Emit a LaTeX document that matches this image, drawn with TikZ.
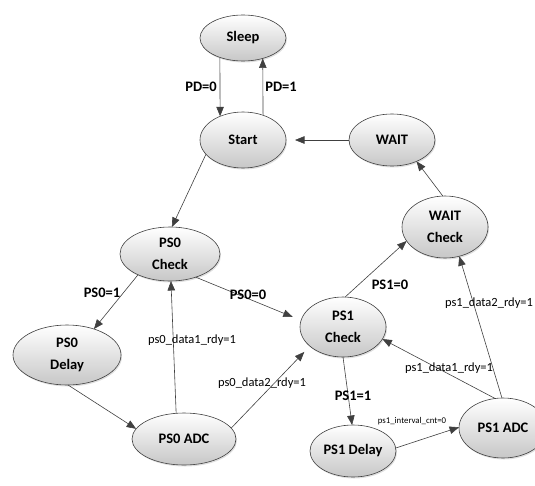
\documentclass[tikz,border=0pt]{standalone}
\usepackage{fontspec}
\setmainfont{Carlito}
\usetikzlibrary{shapes.geometric,arrows.meta,shadows}
\begin{document}
\begin{tikzpicture}[x=1pt,y=-1pt,
  state/.style={ellipse, draw=black!75, line width=0.6pt, top color=white, bottom color=black!22,
    inner sep=0pt, outer sep=0pt, align=center,
    font=\bfseries\fontsize{14.5}{22}\selectfont,
    drop shadow={opacity=0.25, shadow xshift=1pt, shadow yshift=-1.5pt}},
  tr/.style={draw=black!75, line width=0.6pt, -{Triangle[length=9.5pt,width=7.5pt]}},
  lbl/.style={font=\bfseries\fontsize{14.5}{17}\selectfont, inner sep=0pt},
  slbl/.style={font=\fontsize{12.5}{15}\selectfont, inner sep=0pt},
  tlbl/.style={font=\fontsize{8.8}{10}\selectfont, inner sep=0pt}]
\useasboundingbox (0,0) rectangle (535,485);
% states
\node[state, minimum width=86pt, minimum height=46pt] (sleep) at (243,38) {Sleep};
\node[state, minimum width=86pt, minimum height=56pt] (start) at (243,140) {Start};
\node[state, minimum width=86pt, minimum height=52pt] (wait) at (392,140) {WAIT};
\node[state, minimum width=100pt, minimum height=54pt] (ps0c) at (170,254) {PS0\\Check};
\node[state, minimum width=108pt, minimum height=60pt] (ps0d) at (67,355) {PS0\\Delay};
\node[state, minimum width=104pt, minimum height=52pt] (ps0a) at (184,439) {PS0 ADC};
\node[state, minimum width=86pt, minimum height=60pt] (ps1c) at (343,327) {PS1\\Check};
\node[state, minimum width=86pt, minimum height=62pt] (waitc) at (445,227) {WAIT\\Check};
\node[state, minimum width=86pt, minimum height=52pt] (ps1d) at (353,451) {PS1 Delay};
\node[state, minimum width=88pt, minimum height=60pt] (ps1a) at (503,428) {PS1 ADC};
% transitions
\draw[tr] (sleep.220) -- (start.134);
\draw[tr] (start.51) -- (sleep.314);
\draw[tr, shorten >=9pt] (wait.180) -- (start.0);
\draw[tr] (start.201) -- (ps0c.86);
\draw[tr] (ps0c.213) -- (ps0d.44);
\draw[tr, shorten >=9pt] (ps0c.318) -- (ps1c.171);
\draw[tr] (ps0d.272) -- (ps0a.168);
\draw[tr] (ps0a.107) -- (ps0c.272);
\draw[tr, shorten >=8pt] (ps0a.13) -- (ps1c.210);
\draw[tr] (ps1c.86) -- (waitc.200);
\draw[tr] (ps1c.270) -- (ps1d.92);
\draw[tr] (ps1d.4) -- (ps1a.179);
\draw[tr] (ps1a.105) -- (ps1c.343);
\draw[tr] (ps1a.92) -- (waitc.296);
\draw[tr] (waitc.94) -- (wait.319);
% labels
\node[lbl] (lpd0) at (201,87) {PD=0};
\node[lbl] (lpd1) at (281,87) {PD=1};
\node[lbl] (lps01) at (102,293) {PS0=1};
\node[lbl] (lps00) at (248,295) {PS0=0};
\node[slbl] (ld01) at (192,340) {ps0\_data1\_rdy=1};
\node[slbl] (ld02) at (262,383) {ps0\_data2\_rdy=1};
\node[lbl] (lps10) at (390,285) {PS1=0};
\node[lbl] (lps11) at (353,396) {PS1=1};
\node[tlbl] (lint) at (412,421) {ps1\_interval\_cnt=0};
\node[slbl] (ld11) at (449,368) {ps1\_data1\_rdy=1};
\node[slbl] (ld12) at (489,303) {ps1\_data2\_rdy=1};
\end{tikzpicture}
\end{document}
